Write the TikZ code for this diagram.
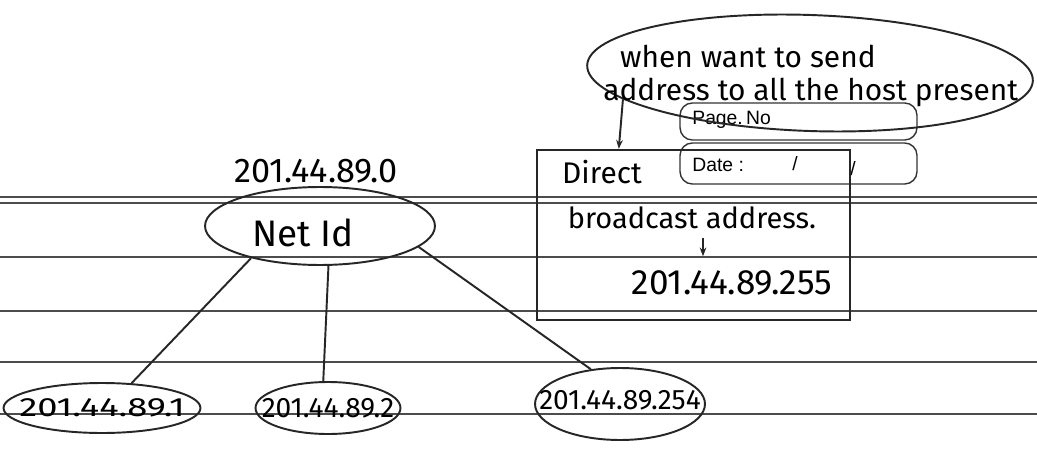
\documentclass[tikz,border=0pt]{standalone}
\usepackage{fontspec}
\usepackage{graphicx}
\setmainfont{Fira Sans}
\newfontfamily\printfont{Liberation Sans}
\usetikzlibrary{arrows.meta,shapes.geometric}

\begin{document}
\begin{tikzpicture}[
  x=0.02cm, y=-0.02cm,
  >={Stealth[length=5pt]},
  inkline/.style={line width=1.1pt, black!85},
  ruleline/.style={line width=0.9pt, black!70},
  hostnode/.style={ellipse, draw, inkline, inner sep=0pt},
  hand/.style={font=\fontsize{17}{19}\selectfont, inner sep=0pt},
  printbox/.style={draw, line width=0.8pt, black!80, rounded corners=7pt},
  printlabel/.style={font=\printfont\fontsize{11}{12}\selectfont, inner sep=0pt},
]
\useasboundingbox (0,0) rectangle (1037,456);
\fill[white] (0,0) rectangle (1037,456);

%%% Notebook rules %%%
\foreach \y in {197,203,257,311,362,414} {
  \draw[ruleline] (0,\y) -- (1037,\y);
}

%%% Printed header boxes %%%
\node[printbox, minimum width=4.74cm, minimum height=0.74cm] (pagebox) at (798.5,121.5) {};
\node[printlabel, anchor=west] (pagelabel) at (692,120) {Page.\,No};
\node[printbox, minimum width=4.74cm, minimum height=0.82cm] (datebox) at (798.5,163.5) {};
\node[printlabel, anchor=west] (datelabel) at (692,165) {Date :};
\node[printlabel] (dateslashA) at (795,164) {/};
\node[printlabel] (dateslashB) at (853,169) {/};

%%% Network id and hosts %%%
\node[hand, font=\fontsize{19.5}{21}\selectfont] (netaddr) at (316,171) {201.44.89.0};
\node[hostnode, minimum width=4.6cm, minimum height=1.56cm,
  label={[hand, font=\fontsize{21}{23}\selectfont, xshift=-0.34cm, yshift=-0.14cm]center:Net Id}] (netid) at (320,226) {};

\node[hostnode, minimum width=3.94cm, minimum height=1cm,
  label={[hand, font=\fontsize{15}{17}\selectfont]center:\scalebox{1.38}[1]{201.44.89.1}}] (host1) at (102,408) {};
\node[hostnode, minimum width=2.9cm, minimum height=1.04cm,
  label={[hand, font=\fontsize{16}{18}\selectfont]center:201.44.89.2}] (host2) at (328,408) {};
\node[hostnode, minimum width=3.4cm, minimum height=1.44cm,
  label={[hand, font=\fontsize{16}{18}\selectfont, yshift=0.08cm]center:201.44.89.254}] (host254) at (620,404) {};

% Branches
\draw[inkline] (netid.205) -- (host1.40);
\draw[inkline] (netid.282) -- (host2.100);
\draw[inkline] (netid.-12) -- (host254.130);

%%% Directed broadcast box %%%
\node[draw, inkline, line width=1.4pt, minimum width=6.26cm, minimum height=3.4cm, inner sep=0pt] (bcastbox) at (693.5,235) {};
\node[hand, font=\fontsize{17}{19}\selectfont] (directtext) at (602,172) {Direct};
\node[hand, font=\fontsize{16.5}{18}\selectfont] (bctext) at (692,218) {broadcast address.};
\node[hand, font=\fontsize{20}{22}\selectfont] (bcip) at (732,283) {201.44.89.255};
\draw[inkline, ->, shorten <=5pt, shorten >=8pt] ([xshift=0.22cm]bctext.south) -- ([xshift=-0.58cm]bcip.north);

%%% Callout %%%
\node[ellipse, draw, inkline, minimum width=8.92cm, minimum height=2.32cm, rotate=-2] (callout) at (810,73) {};
\node[hand, align=left, anchor=west] (callouttext) at (603,76) {\hspace{9.6pt}when want to send\\address to all the host present};
\draw[inkline, ->] (callout.190) -- ([xshift=1.66cm]bcastbox.north west);

\end{tikzpicture}
\end{document}
